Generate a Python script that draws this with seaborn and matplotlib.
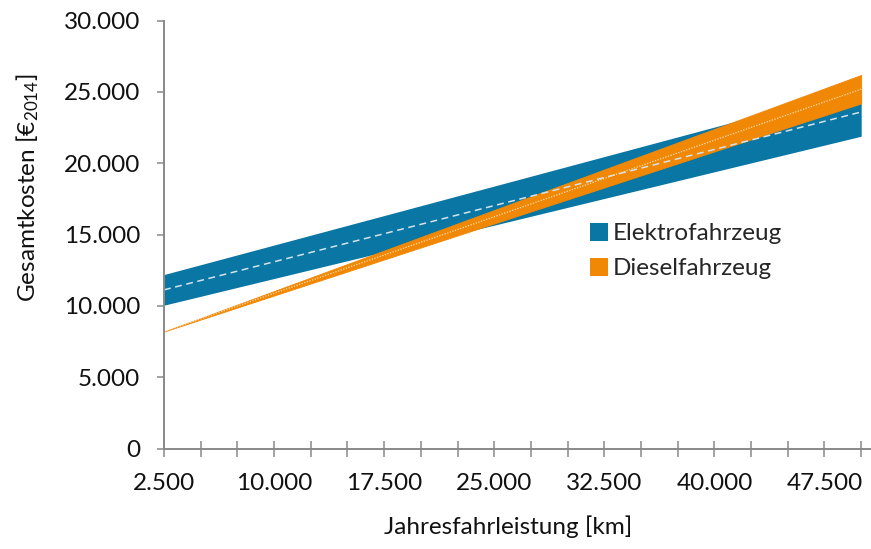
import numpy as np
import pandas as pd
import matplotlib
matplotlib.use("Agg")
import matplotlib.pyplot as plt
import seaborn as sns
from matplotlib.patches import Patch

# Annual mileage (km) and total cost ranges (EUR 2014)
km = [2500, 50000]
elektro_low = [10050, 21900]
elektro_high = [12200, 25300]
elektro_mid = [11125, 23600]
diesel_low = [8200, 24200]
diesel_high = [8200, 26200]
diesel_mid = [8200, 25200]

series_names = ["Elektrofahrzeug", "Dieselfahrzeug"]
x_ticks = list(range(2500, 50001, 2500))
x_label_ticks = [2500, 10000, 17500, 25000, 32500, 40000, 47500]
y_ticks = [0, 5000, 10000, 15000, 20000, 25000, 30000]

BLUE = "#0A76A3"
ORANGE = "#F18805"
AXIS_GREY = "#898989"
FONT = "Lato"
FS = 17.5


def de_fmt(v):
    return f"{v:,.0f}".replace(",", ".")


sns.set_theme(style="white")
plt.rcParams["font.family"] = [FONT, "DejaVu Sans"]
plt.rcParams["mathtext.fontset"] = "custom"
plt.rcParams["mathtext.rm"] = FONT
plt.rcParams["mathtext.default"] = "regular"

fig = plt.figure(figsize=(8.71, 5.49), dpi=100)
W, H = 871, 549
left, right, top, bottom = 164, 870, 20.7, 448.5
ax = fig.add_axes([left / W, 1 - bottom / H, (right - left) / W, (bottom - top) / H])

df = pd.DataFrame({
    "km": km * 2,
    "mid": elektro_mid + diesel_mid,
    "typ": [series_names[0]] * len(km) + [series_names[1]] * len(km),
})

# cost bands
ax.fill_between(km, elektro_low, elektro_high, color=BLUE, linewidth=0, zorder=2)
ax.fill_between(km, diesel_low, diesel_high, color=ORANGE, linewidth=0.6,
                edgecolor=ORANGE, zorder=3)

# centre lines
sns.lineplot(data=df[df["typ"] == series_names[0]], x="km", y="mid", ax=ax,
             color="#d3e3ec", linewidth=1.1, dashes=False, zorder=4, legend=False)
ax.lines[-1].set_dashes([4.5, 3])
sns.lineplot(data=df[df["typ"] == series_names[1]], x="km", y="mid", ax=ax,
             color="#fcdcae", linewidth=0.9, dashes=False, zorder=5, legend=False)
ax.lines[-1].set_dashes([1, 1.2])

ax.set_xlim(2500, 50600)
ax.set_ylim(0, 30000)

ax.set_xticks(x_ticks)
ax.set_xticklabels([de_fmt(t) if t in x_label_ticks else "" for t in x_ticks])
ax.set_yticks(y_ticks)
ax.set_yticklabels([de_fmt(t) for t in y_ticks])

for s in ["top", "right"]:
    ax.spines[s].set_visible(False)
for s in ["left", "bottom"]:
    ax.spines[s].set_color(AXIS_GREY)
    ax.spines[s].set_linewidth(1.4)
    ax.spines[s].set_zorder(6)

ax.tick_params(axis="x", bottom=True, direction="inout", length=11.5, width=1.1,
               color=AXIS_GREY, labelsize=FS, labelcolor="#111111", pad=12)
ax.tick_params(axis="y", left=True, direction="out", length=5.3, width=1.1,
               color=AXIS_GREY, labelsize=FS, labelcolor="#111111", pad=12)
ax.grid(False)
ax.set_xlabel("")
ax.set_ylabel("")

fig.text(508 / W, 1 - 527 / H, "Jahresfahrleistung [km]", ha="center", va="center",
         fontsize=FS, color="#111111")
fig.text(28 / W, 1 - 188 / H, "Gesamtkosten [€$_{2014}$]", ha="center", va="center",
         rotation=90, fontsize=FS, color="#111111")

handles = [Patch(facecolor=BLUE, edgecolor="none"), Patch(facecolor=ORANGE, edgecolor="none")]
ax.legend(handles, series_names, loc="upper left", bbox_to_anchor=(590 / W, 1 - 223 / H),
          bbox_transform=fig.transFigure, frameon=False, fontsize=FS,
          handlelength=0.75, handleheight=0.75, handletextpad=0.2, labelspacing=0.55,
          borderaxespad=0, borderpad=0)

fig.savefig("out.png", dpi=100)
